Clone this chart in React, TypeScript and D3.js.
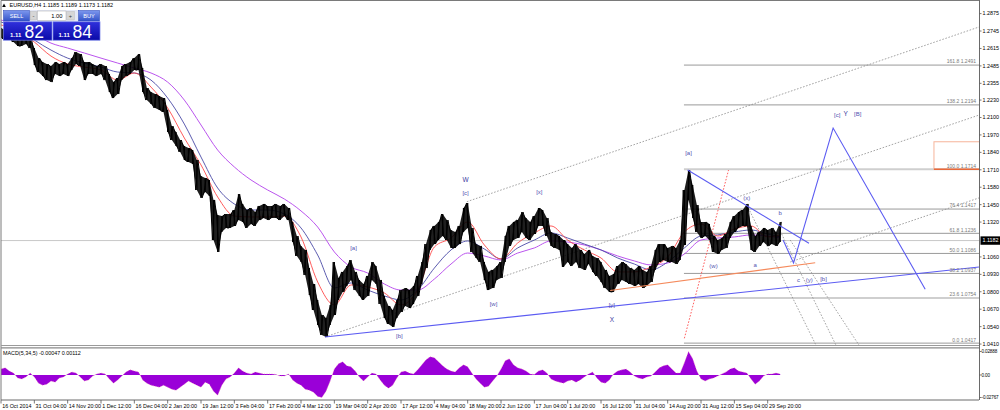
import React from 'react';
import * as d3 from 'd3';

// ---------- data ----------
const dateLabels = [
  '16 Oct 2014', '31 Oct 04:00', '14 Nov 20:00', '1 Dec 12:00', '16 Dec 04:00', '2 Jan 20:00',
  '19 Jan 12:00', '3 Feb 04:00', '17 Feb 20:00', '4 Mar 12:00', '19 Mar 04:00', '2 Apr 20:00',
  '17 Apr 12:00', '4 May 04:00', '18 May 20:00', '2 Jun 12:00', '17 Jun 04:00', '1 Jul 20:00',
  '16 Jul 12:00', '31 Jul 04:00', '14 Aug 20:00', '31 Aug 12:00', '15 Sep 04:00', '29 Sep 20:00',
];
const barsPerLabel = 8;

const priceTicks = [
  1.0410, 1.0540, 1.0670, 1.0800, 1.0930, 1.1060, 1.1320, 1.1450, 1.1580, 1.1710,
  1.1840, 1.1970, 1.2100, 1.2230, 1.2355, 1.2485, 1.2615, 1.2745, 1.2875,
];
const lastPrice = 1.1182;

const highs = [
  1.2767, 1.2752, 1.2767, 1.2737, 1.2708, 1.2693, 1.2708, 1.2693, 1.2618, 1.2543,
  1.2514, 1.2499, 1.2484, 1.2514, 1.2499, 1.2514, 1.2499, 1.2543, 1.2588, 1.2573,
  1.2514, 1.2514, 1.2499, 1.2484, 1.2499, 1.2484, 1.2424, 1.2364, 1.2394, 1.2484,
  1.2499, 1.2514, 1.2543, 1.2573, 1.2469, 1.2320, 1.2290, 1.2275, 1.2260, 1.2245,
  1.2156, 1.2036, 1.1992, 1.1932, 1.1887, 1.1872, 1.1857, 1.1783, 1.1664, 1.1649,
  1.1634, 1.1485, 1.1373, 1.1365, 1.1380, 1.1380, 1.1410, 1.1529, 1.1455, 1.1410,
  1.1425, 1.1395, 1.1440, 1.1455, 1.1440, 1.1440, 1.1455, 1.1440, 1.1455, 1.1425,
  1.1321, 1.1216, 1.1142, 1.1112, 1.0977, 1.0858, 1.0739, 1.0627, 1.0605, 1.0702,
  1.1022, 1.0903, 1.0948, 1.0992, 1.1037, 1.0948, 1.0888, 1.0858, 1.0918, 1.1022,
  1.0992, 1.0888, 1.0769, 1.0694, 1.0664, 1.0739, 1.0813, 1.0828, 1.0813, 1.0843,
  1.0918, 1.1022, 1.1156, 1.1261, 1.1291, 1.1321, 1.1380, 1.1335, 1.1261, 1.1246,
  1.1291, 1.1425, 1.1462, 1.1276, 1.1156, 1.1142, 1.1022, 1.0948, 1.0963, 1.0992,
  1.1022, 1.1216, 1.1291, 1.1321, 1.1335, 1.1395, 1.1350, 1.1321, 1.1365, 1.1425,
  1.1410, 1.1350, 1.1246, 1.1231, 1.1216, 1.1186, 1.1156, 1.1127, 1.1156, 1.1112,
  1.1082, 1.1112, 1.1067, 1.1052, 1.1022, 1.0963, 1.0918, 1.0933, 1.0992, 1.1022,
  1.1007, 1.0977, 1.0963, 1.0992, 1.0963, 1.0948, 1.0992, 1.1112, 1.1156, 1.1156,
  1.1127, 1.1142, 1.1127, 1.1186, 1.1559, 1.1708, 1.1596, 1.1447, 1.1321, 1.1321,
  1.1306, 1.1216, 1.1186, 1.1201, 1.1231, 1.1321, 1.1365, 1.1395, 1.1410, 1.1455,
  1.1291, 1.1216, 1.1246, 1.1276, 1.1261, 1.1276, 1.1246, 1.1321,
];
const lows = [
  1.2693, 1.2678, 1.2693, 1.2663, 1.2633, 1.2633, 1.2648, 1.2618, 1.2491, 1.2439,
  1.2409, 1.2379, 1.2364, 1.2424, 1.2409, 1.2424, 1.2409, 1.2454, 1.2499, 1.2484,
  1.2379, 1.2424, 1.2424, 1.2409, 1.2424, 1.2379, 1.2290, 1.2245, 1.2275, 1.2379,
  1.2409, 1.2424, 1.2454, 1.2454, 1.2290, 1.2230, 1.2200, 1.2171, 1.2156, 1.2141,
  1.1992, 1.1932, 1.1887, 1.1843, 1.1783, 1.1768, 1.1753, 1.1559, 1.1500, 1.1544,
  1.1514, 1.1186, 1.1097, 1.1246, 1.1276, 1.1276, 1.1291, 1.1335, 1.1321, 1.1276,
  1.1306, 1.1291, 1.1335, 1.1350, 1.1335, 1.1350, 1.1350, 1.1335, 1.1365, 1.1335,
  1.1171, 1.1067, 1.1022, 1.0925, 1.0776, 1.0664, 1.0552, 1.0478, 1.0463, 1.0552,
  1.0627, 1.0739, 1.0799, 1.0843, 1.0888, 1.0813, 1.0769, 1.0739, 1.0769, 1.0888,
  1.0858, 1.0709, 1.0605, 1.0560, 1.0538, 1.0605, 1.0649, 1.0694, 1.0679, 1.0709,
  1.0769, 1.0858, 1.0977, 1.1112, 1.1156, 1.1186, 1.1216, 1.1186, 1.1127, 1.1127,
  1.1156, 1.1246, 1.1276, 1.1097, 1.1052, 1.1022, 1.0888, 1.0813, 1.0828, 1.0888,
  1.0903, 1.1022, 1.1142, 1.1186, 1.1201, 1.1246, 1.1201, 1.1186, 1.1231, 1.1291,
  1.1291, 1.1216, 1.1142, 1.1127, 1.1112, 1.0985, 1.1022, 1.0992, 1.1022, 1.0977,
  1.0963, 1.1007, 1.0948, 1.0918, 1.0873, 1.0828, 1.0799, 1.0799, 1.0858, 1.0888,
  1.0873, 1.0858, 1.0843, 1.0858, 1.0828, 1.0843, 1.0873, 1.0963, 1.1022, 1.1037,
  1.1022, 1.1022, 1.1007, 1.1037, 1.1149, 1.1485, 1.1350, 1.1246, 1.1201, 1.1216,
  1.1186, 1.1097, 1.1082, 1.1112, 1.1127, 1.1201, 1.1246, 1.1276, 1.1291, 1.1291,
  1.1112, 1.1097, 1.1142, 1.1171, 1.1142, 1.1156, 1.1142, 1.1171,
];

// moving averages, one reading every 4 bars (last at the final bar)
const maRed = [
  1.2790, 1.2752, 1.2663, 1.2558, 1.2499, 1.2476, 1.2454, 1.2379, 1.2432, 1.2327,
  1.2171, 1.1947, 1.1746, 1.1507, 1.1365, 1.1358, 1.1358, 1.1365, 1.1209, 1.0873,
  1.0702, 1.0851, 1.0836, 1.0791, 1.0702, 1.0813, 1.1134, 1.1201, 1.1321, 1.1149,
  1.1045, 1.1164, 1.1239, 1.1291, 1.1186, 1.1112, 1.1052, 1.0948, 1.0948, 1.0985,
  1.1060, 1.1246, 1.1306, 1.1216, 1.1268, 1.1291, 1.1209, 1.1224,
];
const maBlue = [
  1.2812, 1.2767, 1.2678, 1.2603, 1.2543, 1.2506, 1.2476, 1.2439, 1.2432, 1.2379,
  1.2245, 1.2051, 1.1805, 1.1574, 1.1455, 1.1410, 1.1410, 1.1380, 1.1276, 1.1074,
  1.0828, 1.0866, 1.0813, 1.0769, 1.0739, 1.0813, 1.0977, 1.1112, 1.1179, 1.1119,
  1.1045, 1.1127, 1.1186, 1.1239, 1.1201, 1.1156, 1.1112, 1.1052, 1.1007, 1.0963,
  1.1022, 1.1127, 1.1216, 1.1224, 1.1246, 1.1261, 1.1231, 1.1209,
];
const maPurple = [
  1.2827, 1.2790, 1.2722, 1.2655, 1.2618, 1.2581, 1.2543, 1.2506, 1.2469, 1.2432,
  1.2364, 1.2230, 1.2044, 1.1857, 1.1731, 1.1634, 1.1559, 1.1492, 1.1403, 1.1283,
  1.1097, 1.0985, 1.0940, 1.0858, 1.0813, 1.0813, 1.0895, 1.1007, 1.1089, 1.1067,
  1.1037, 1.1089, 1.1127, 1.1179, 1.1171, 1.1149, 1.1112, 1.1067, 1.1030, 1.1000,
  1.1015, 1.1082, 1.1186, 1.1201, 1.1209, 1.1224, 1.1216, 1.1201,
];

const macd = [
  0.0075, 0.0088, 0.005, 0.0025, -0.0038, -0.005, -0.0025, 0.0025, -0.0025, -0.01,
  -0.0125, -0.0113, -0.0075, -0.0088, -0.0038, -0.0025, 0.0013, 0.0038, 0.0025, -0.0025,
  -0.0075, -0.0063, -0.0013, 0.0013, 0.0025, 0.0013, -0.005, -0.01, -0.0063, -0.0013,
  0.0038, 0.0063, 0.005, 0.0038, -0.0063, -0.01, -0.0125, -0.0138, -0.015, -0.0125,
  -0.015, -0.0175, -0.0188, -0.015, -0.0113, -0.0075, -0.01, -0.0125, -0.015, -0.0088,
  -0.0113, -0.02, -0.025, -0.0125, -0.005, -0.0025, 0.0025, 0.0088, 0.005, 0.0025,
  0.0013, 0.0038, 0.0025, 0.0013, 0.0013, 0.0013, 0.0006, -0.0013, -0.0013, 0.0013,
  -0.0063, -0.01, -0.0125, -0.0175, -0.0188, -0.0213, -0.0263, -0.0277, -0.02, -0.0075,
  0.0075, 0.0138, 0.0163, 0.0113, 0.01, 0.005, -0.0025, -0.0075, -0.0025, 0.0025,
  0.0013, -0.0063, -0.0125, -0.0163, -0.0125, -0.0038, 0.0038, 0.005, 0.0025, 0.0013,
  0.0063, 0.0125, 0.0188, 0.0225, 0.0213, 0.0163, 0.0113, 0.0075, 0.005, 0.0038,
  0.0088, 0.0125, 0.01, 0.0025, -0.005, -0.01, -0.015, -0.0138, -0.0075, -0.0013,
  0.0075, 0.0175, 0.02, 0.0125, 0.0088, 0.0075, 0.005, 0.0013, 0.0006, 0.005,
  0.0063, 0.0025, -0.005, -0.0075, -0.0088, -0.01, -0.0075, -0.0063, -0.0088, -0.0063,
  -0.0025, 0.0013, 0.0038, -0.0038, -0.0088, -0.01, -0.0063, 0.0013, 0.005, 0.0063,
  0.0075, 0.0038, -0.0013, -0.0038, -0.005, -0.0025, -0.0013, 0.0038, 0.0088, 0.0113,
  0.0125, 0.0075, 0.0025, 0.0025, 0.015, 0.0288, 0.02, 0.005, -0.005, -0.0075,
  -0.005, -0.0038, -0.0013, 0.0013, 0.0038, 0.0075, 0.0088, 0.005, 0.0038, 0.0025,
  -0.005, -0.0113, -0.0075, -0.0013, 0.0013, 0.0013, 0.0025, 0.0013,
];
const macdMax = 0.02888;
const macdMin = -0.02767;

const fibStart = 163.9;
const fibLevels = [
  { pct: '161.8', price: 1.2491 },
  { pct: '138.2', price: 1.2194 },
  { pct: '100.0', price: 1.1714 },
  { pct: '76.4', price: 1.1417 },
  { pct: '61.8', price: 1.1236 },
  { pct: '50.0', price: 1.1086 },
  { pct: '38.2', price: 1.0937 },
  { pct: '23.6', price: 1.0754 },
  { pct: '0.0', price: 1.0417 },
];

// drawn objects: [bar index, price]
const blueLines = [
  [[77.76, 1.0463], [234.7, 1.0985]],
  [[164.8, 1.1708], [193.9, 1.1162]],
  [[187.7, 1.1186], [190.2, 1.1015], [199.7, 1.2021], [221.8, 1.0819]],
];
const orangeLine = [[146.2, 1.0810], [195.4, 1.1017]];
const grayDotted = [
  [[111.8, 1.1472], [234.7, 1.2775]],
  [[77.76, 1.0463], [234.7, 1.2118]],
  [[189.4, 1.1022], [234.7, 1.1500]],
  [[179.0, 1.1447], [195.8, 1.0388]],
  [[187.0, 1.1253], [200.6, 1.0388]],
  [[189.4, 1.1186], [206.2, 1.0388]],
];
const redDotted = [[164.0, 1.0453], [174.6, 1.1708]];
const orangeBox = { t0: 223.9, t1: 240, top: 1.1919, bottom: 1.1714 };

const waveLabels = [
  { text: '[a]', t: 84.6, p: 1.1124 },
  { text: '[b]', t: 95.6, p: 1.0470 },
  { text: 'W', t: 111.5, p: 1.1634, strong: true },
  { text: '[c]', t: 111.5, p: 1.1535 },
  { text: '[w]', t: 118.2, p: 1.0709 },
  { text: '[x]', t: 129.2, p: 1.1544 },
  { text: '[y]', t: 146.6, p: 1.0701 },
  { text: 'X', t: 146.6, p: 1.0590, strong: true },
  { text: '[a]', t: 165.0, p: 1.1833 },
  { text: '(x)', t: 179.0, p: 1.1502 },
  { text: 'b', t: 187.0, p: 1.1385 },
  { text: '(w)', t: 171.0, p: 1.0992 },
  { text: 'a', t: 181.0, p: 1.1000 },
  { text: 'c', t: 191.4, p: 1.0888 },
  { text: '(y)', t: 194.0, p: 1.0888 },
  { text: '[b]', t: 197.4, p: 1.0895 },
  { text: '[c]', t: 200.7, p: 1.2118 },
  { text: 'Y', t: 202.7, p: 1.2126, strong: true },
  { text: '[B]', t: 205.6, p: 1.2126 },
];

const FONT = 'Liberation Sans, Arial, sans-serif';

export default function App() {
  const N = highs.length;
  const plotL = 1, plotR = 979;
  const mainTop = 1, mainBot = 345;
  const x = d3.scaleLinear().domain([0, (dateLabels.length - 1) * barsPerLabel]).range([plotL, 767.7]);
  const y = d3.scaleLinear().domain([1.0403, 1.2969]).range([mainBot, mainTop]);
  const ym = d3.scaleLinear().domain([macdMin, macdMax]).range([397.5, 351.5]);

  const idx = d3.range(N);
  const band = d3.area<number>().x(i => x(i)).y0(i => y(lows[i])).y1(i => y(highs[i]));
  // scribble through each bar's high and low, alternating, like dense OHLC bars
  const zigPts: [number, number][] = [];
  idx.forEach(i => {
    const a = i % 2 === 0 ? highs[i] : lows[i];
    const b = i % 2 === 0 ? lows[i] : highs[i];
    zigPts.push([x(i) - 1.1, y(a)]);
    zigPts.push([x(i) + 1.1, y(b)]);
  });
  const zig = d3.line()(zigPts) || '';
  const maT = maRed.map((_, j) => Math.min(j * 4, N - 1));
  const maLine = (arr: number[]) =>
    d3.line<number>().x((_, j) => x(maT[j])).y(v => y(v)).curve(d3.curveMonotoneX)(arr) || '';
  const seg = d3.line<number[]>().x(d => x(d[0])).y(d => y(d[1]));
  const macdArea = d3.area<number>().x((_, i) => x(i)).y0(ym(0)).y1(v => ym(v));
  const macdLine = d3.line<number>().x((_, i) => x(i)).y(v => ym(v));

  const waveColor = '#5252b0';

  return (
    <svg width={1000} height={410} style={{ position: 'fixed', left: 0, top: 0, background: '#fff' }}
      fontFamily={FONT}>
      <defs>
        <clipPath id="mainClip"><rect x={plotL} y={mainTop} width={plotR - plotL} height={mainBot - mainTop} /></clipPath>
        <clipPath id="macdClip"><rect x={plotL} y={349} width={plotR - plotL} height={51} /></clipPath>
        <linearGradient id="btnGrad" x1="0" y1="0" x2="0" y2="1">
          <stop offset="0" stopColor="#7d97ee" />
          <stop offset="1" stopColor="#3454c9" />
        </linearGradient>
        <linearGradient id="priceGrad" x1="0" y1="0" x2="0" y2="1">
          <stop offset="0" stopColor="#3030dc" />
          <stop offset="1" stopColor="#0a0aa8" />
        </linearGradient>
      </defs>
      <rect x={0} y={0} width={1000} height={410} fill="#fff" />

      {/* main panel */}
      <g clipPath="url(#mainClip)">
        <line x1={plotL} x2={plotR} y1={y(lastPrice)} y2={y(lastPrice)} stroke="#c8c8c8" strokeWidth={1} />
        {fibLevels.map(f => (
          <line key={f.pct} x1={x(fibStart)} x2={plotR} y1={y(f.price)} y2={y(f.price)}
            stroke={f.pct === '100.0' || f.pct === '23.6' ? '#cfcfcf' : '#9a9a9a'}
            strokeWidth={f.pct === '100.0' || f.pct === '23.6' ? 2 : 1} />
        ))}
        <rect x={x(orangeBox.t0)} y={y(orangeBox.top)} width={x(orangeBox.t1) - x(orangeBox.t0)}
          height={y(orangeBox.bottom) - y(orangeBox.top)} fill="none" stroke="#f6b49a" strokeWidth={1} />
        <line x1={x(orangeBox.t0)} x2={plotR} y1={y(orangeBox.bottom)} y2={y(orangeBox.bottom)} stroke="#e8693a" strokeWidth={1.5} />
        {grayDotted.map((l, i) => (
          <path key={i} d={seg(l) || ''} fill="none" stroke="#8c8c8c" strokeWidth={0.8} strokeDasharray="1.6,1.6" />
        ))}
        <path d={seg(redDotted) || ''} fill="none" stroke="#ff4d4d" strokeWidth={0.9} strokeDasharray="1.6,1.6" />
        <path d={maLine(maPurple)} fill="none" stroke="#bb55ee" strokeWidth={1} />
        <path d={maLine(maBlue)} fill="none" stroke="#4a4aa6" strokeWidth={0.9} />
        <path d={maLine(maRed)} fill="none" stroke="#ff4a4a" strokeWidth={0.9} />
        {/* price bars */}
        <path d={band(idx) || ''} fill="#000" fillOpacity={0.88} />
        {idx.map(i => (
          <line key={i} x1={x(i)} x2={x(i)} y1={y(highs[i])} y2={y(lows[i])} stroke="#000" strokeWidth={1.3} />
        ))}
        <path d={zig} fill="none" stroke="#000" strokeWidth={1} />
        <path d={seg(orangeLine) || ''} fill="none" stroke="#f58a5c" strokeWidth={1.1} />
        {blueLines.map((l, i) => (
          <path key={i} d={seg(l) || ''} fill="none" stroke="#5c5cf2" strokeWidth={1.1} />
        ))}
        {fibLevels.map(f => (
          <text key={f.pct} x={plotR - 3} y={y(f.price) - 1.6} fontSize={5} fill="#7a7a7a" textAnchor="end">
            {`${f.pct} ${f.price.toFixed(4)}`}
          </text>
        ))}
        {waveLabels.map((w, i) => (
          <text key={i} x={x(w.t)} y={y(w.p)} dy="0.35em" fontSize={w.strong ? 6.5 : 6}
            fill={w.strong ? '#3a3aa0' : waveColor} textAnchor="middle">{w.text}</text>
        ))}
      </g>

      {/* MACD panel */}
      <g clipPath="url(#macdClip)">
        <path d={macdArea(macd) || ''} fill="#9a00d8" />
        <path d={macdLine(macd) || ''} fill="none" stroke="#ff8fb0" strokeWidth={0.6} strokeDasharray="1,1.5" />
      </g>
      <text x={3} y={354.6} fontSize={5.4} fill="#000">MACD(5,34,5) -0.00047 0.00112</text>

      {/* frames */}
      <line x1={plotL} x2={plotR} y1={0.5} y2={0.5} stroke="#7a7a7a" strokeWidth={1} />
      <line x1={plotL} x2={plotL} y1={0.5} y2={400} stroke="#7a7a7a" strokeWidth={1} />
      <line x1={plotL} x2={plotR} y1={345.5} y2={345.5} stroke="#9a9a9a" strokeWidth={1} />
      <line x1={plotL} x2={plotR} y1={347.8} y2={347.8} stroke="#8a8a8a" strokeWidth={1.2} />
      <line x1={plotL} x2={plotR} y1={400} y2={400} stroke="#6a6a6a" strokeWidth={1} />
      <line x1={plotR + 0.5} x2={plotR + 0.5} y1={0} y2={400} stroke="#6a6a6a" strokeWidth={1} />

      {/* price axis */}
      {priceTicks.map(p => (
        <g key={p}>
          <line x1={plotR + 0.5} x2={plotR + 2.5} y1={y(p)} y2={y(p)} stroke="#555" strokeWidth={0.8} />
          <text x={982.5} y={y(p)} dy="0.35em" fontSize={5.4} fill="#000">{p.toFixed(4)}</text>
        </g>
      ))}
      <rect x={980.5} y={y(lastPrice) - 4.2} width={19.5} height={8.4} fill="#000" />
      <text x={982.5} y={y(lastPrice)} dy="0.35em" fontSize={5.4} fill="#fff">{lastPrice.toFixed(4)}</text>

      {/* MACD axis */}
      {[macdMax, 0, macdMin].map(v => (
        <g key={v}>
          <line x1={plotR + 0.5} x2={plotR + 2.5} y1={ym(v)} y2={ym(v)} stroke="#555" strokeWidth={0.8} />
          <text x={981.5} y={ym(v)} dy="0.35em" fontSize={4.6} letterSpacing={-0.15} fill="#000">
            {v === 0 ? '0.00' : v.toFixed(5)}
          </text>
        </g>
      ))}

      {/* time axis */}
      {dateLabels.map((d, k) => (
        <g key={d}>
          <line x1={x(k * barsPerLabel)} x2={x(k * barsPerLabel)} y1={400} y2={403.5} stroke="#555" strokeWidth={0.8} />
          <text x={x(k * barsPerLabel) + 1.2} y={407.6} fontSize={5.4} fill="#000">{d}</text>
        </g>
      ))}

      {/* title */}
      <path d="M2.2,7 L4,3.6 L5.8,7 Z" fill="#000" />
      <text x={9.5} y={7.2} fontSize={5.5} fill="#000">EURUSD,H4  1.1185 1.1189 1.1173 1.1182</text>

      {/* one-click trading panel */}
      <g>
        <rect x={3} y={10} width={97} height={11.5} fill="#e4e8f6" />
        <rect x={3.5} y={10.5} width={26} height={10.5} fill="url(#btnGrad)" stroke="#2a46b8" strokeWidth={0.5} />
        <text x={16.5} y={17.8} fontSize={5.6} fill="#fff" textAnchor="middle">SELL</text>
        <rect x={30.3} y={11.5} width={6.4} height={8.5} fill="#d6d6d6" stroke="#b0b0b0" strokeWidth={0.4} />
        <text x={33.5} y={17.6} fontSize={6} fill="#333" textAnchor="middle">-</text>
        <rect x={37.5} y={11} width={28.5} height={9.5} fill="#fff" stroke="#a8a8a8" strokeWidth={0.5} />
        <text x={62.5} y={17.6} fontSize={5.8} fill="#000" textAnchor="end">1.00</text>
        <rect x={66.8} y={11.5} width={7.4} height={8.5} fill="#d6d6d6" stroke="#b0b0b0" strokeWidth={0.4} />
        <text x={70.5} y={17.6} fontSize={5.6} fill="#333" textAnchor="middle">+</text>
        <rect x={78.5} y={10.5} width={21} height={10.5} fill="url(#btnGrad)" stroke="#2a46b8" strokeWidth={0.5} />
        <text x={89} y={17.8} fontSize={5.6} fill="#fff" textAnchor="middle">BUY</text>
        <rect x={3.5} y={21.8} width={48.5} height={18.4} fill="url(#priceGrad)" stroke="#6f7ce8" strokeWidth={0.7} />
        <rect x={53} y={21.8} width={47} height={18.4} fill="url(#priceGrad)" stroke="#6f7ce8" strokeWidth={0.7} />
        <text x={10} y={37} fontSize={6} fontWeight="bold" fill="#fff">1.11</text>
        <text x={24.5} y={37.6} fontSize={17.5} fill="#fff">82</text>
        <text x={58.5} y={37} fontSize={6} fontWeight="bold" fill="#fff">1.11</text>
        <text x={72.5} y={37.6} fontSize={17.5} fill="#fff">84</text>
      </g>
    </svg>
  );
}
